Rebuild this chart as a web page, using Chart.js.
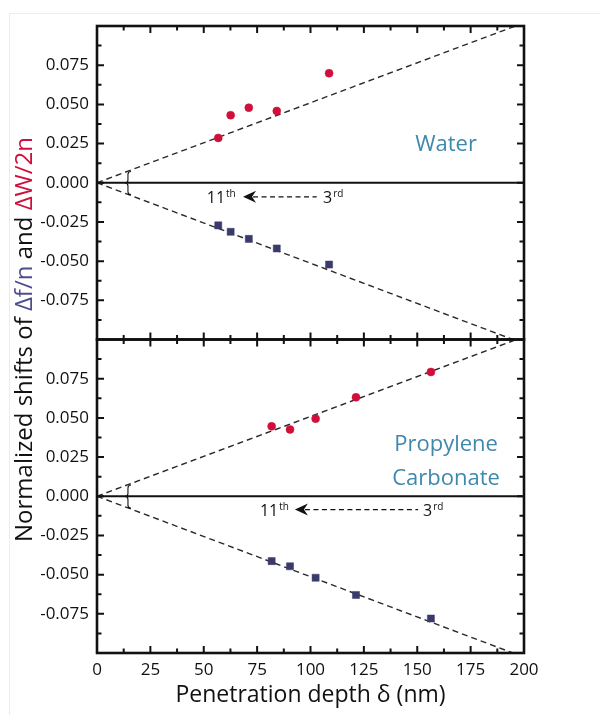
<!DOCTYPE html>
<html>
<head>
<meta charset="utf-8">
<script src="https://cdn.jsdelivr.net/npm/chart.js@4.4.1/dist/chart.umd.min.js"></script>
<style>
  html, body { margin: 0; padding: 0; background: #fff; }
  #wrap { width: 600px; height: 715px; position: relative; }
</style>
</head>
<body>
<div id="wrap"><canvas id="c" width="600" height="715"></canvas></div>
<script>
// ---- data ----
const depthWater = [56.8, 62.6, 71.1, 84.2, 108.7];
const widthWater = [0.0286, 0.0431, 0.0479, 0.0458, 0.0699];
const freqWater  = [-0.0272, -0.0313, -0.0358, -0.0419, -0.0522];

const depthPC = [81.8, 90.4, 102.4, 121.3, 156.4];
const widthPC = [0.0446, 0.0426, 0.0495, 0.0631, 0.0793];
const freqPC  = [-0.0414, -0.0447, -0.0520, -0.0630, -0.0780];

// dashed fit lines through the origin (end points)
const fitWaterWidthX = [0, 196];   const fitWaterWidthY = [0, 0.1];
const fitWaterFreqX  = [0, 194.8]; const fitWaterFreqY  = [0, -0.1];
const fitPCWidthX    = [0, 196.5]; const fitPCWidthY    = [0, 0.1];
const fitPCFreqX     = [0, 194.8]; const fitPCFreqY     = [0, -0.1];

const xTickValues = [0, 25, 50, 75, 100, 125, 150, 175, 200];
const xTickLabels = ['0', '25', '50', '75', '100', '125', '150', '175', '200'];
const yTickValues = [-0.075, -0.05, -0.025, 0, 0.025, 0.05, 0.075];
const yTickLabels = ['-0.075', '-0.050', '-0.025', '0.000', '0.025', '0.050', '0.075'];

const panelLabelTop = ['Water'];
const panelLabelBot = ['Propylene', 'Carbonate'];

const RED = '#d0103a';
const NAVY = '#3b3b6b';
const TXT = '#111';
const LABEL_BLUE = '#3f88ad';
const FONT = "'Open Sans', 'Liberation Sans', sans-serif";

function pts(xs, ys) { return xs.map((x, i) => ({x: x, y: ys[i]})); }

function fitLine(xs, ys, axis) {
  return {
    type: 'line', data: pts(xs, ys), yAxisID: axis,
    borderColor: '#2a2a2a', borderWidth: 1.4, borderDash: [6, 4],
    pointRadius: 0, fill: false, tension: 0, order: 2
  };
}
function markers(xs, ys, axis, color, style, r) {
  return {
    type: 'scatter', data: pts(xs, ys), yAxisID: axis,
    backgroundColor: color, borderColor: color, borderWidth: 0.5,
    pointStyle: style, pointRadius: r, pointHoverRadius: r, order: 1
  };
}

function yScale(weight) {
  return {
    type: 'linear', position: 'left', stack: 'panels', stackWeight: 1, weight: weight,
    min: -0.1, max: 0.1,
    grid: { display: false, drawTicks: false },
    border: { display: false },
    afterBuildTicks: (s) => { s.ticks = yTickValues.map(v => ({value: v})); },
    ticks: {
      padding: 8, color: TXT, font: { family: FONT, size: 17 },
      callback: (v) => { const i = yTickValues.findIndex(t => Math.abs(t - v) < 1e-9); return i >= 0 ? yTickLabels[i] : ''; }
    },
    afterFit: (s) => { s.width = 97; s.paddingTop = 0; s.paddingBottom = 0; }
  };
}

function sup(ctx, x, y, base, s) {
  ctx.font = '16px ' + FONT;
  ctx.textBaseline = 'alphabetic';
  ctx.textAlign = 'left';
  ctx.fillText(base, x, y);
  const w = ctx.measureText(base).width;
  ctx.font = '10px ' + FONT;
  ctx.fillText(s, x + w + 1, y - 6);
}

function arrowNote(ctx, xs, ys, yVal, startX, tipX, tailX, endX) {
  const y = ys.getPixelForValue(yVal);
  const a = xs.getPixelForValue(startX);
  const tip = xs.getPixelForValue(tipX);
  const tail = xs.getPixelForValue(tailX);
  const e = xs.getPixelForValue(endX);
  ctx.fillStyle = TXT; ctx.strokeStyle = TXT;
  sup(ctx, a, y + 6, '11', 'th');
  ctx.save();
  ctx.lineWidth = 1.3; ctx.setLineDash([5, 3.5]);
  ctx.beginPath(); ctx.moveTo(tip + 10, y); ctx.lineTo(tail, y); ctx.stroke();
  ctx.restore();
  ctx.beginPath();
  ctx.moveTo(tip, y);
  ctx.lineTo(tip + 13, y - 6);
  ctx.lineTo(tip + 9, y);
  ctx.lineTo(tip + 13, y + 6);
  ctx.closePath(); ctx.fill();
  sup(ctx, e, y + 6, '3', 'rd');
}

function brace(ctx, xs, ys, xv, y1v, y2v) {
  const x = xs.getPixelForValue(xv);
  const t = ys.getPixelForValue(y1v), b = ys.getPixelForValue(y2v);
  const m = (t + b) / 2;
  ctx.save();
  ctx.strokeStyle = TXT; ctx.lineWidth = 1.1;
  ctx.beginPath();
  ctx.moveTo(x + 3, t);
  ctx.quadraticCurveTo(x, t, x, t + 3);
  ctx.lineTo(x, m - 3);
  ctx.quadraticCurveTo(x, m, x - 3, m);
  ctx.quadraticCurveTo(x, m, x, m + 3);
  ctx.lineTo(x, b - 3);
  ctx.quadraticCurveTo(x, b, x + 3, b);
  ctx.stroke();
  ctx.restore();
}

const decor = {
  id: 'decor',
  beforeDraw(chart) {
    const ctx = chart.ctx;
    ctx.save();
    ctx.strokeStyle = '#ececec'; ctx.lineWidth = 1;
    ctx.strokeRect(9.5, 13.5, 800, 900);
    ctx.restore();
  },
  beforeDatasetsDraw(chart) {
    const ctx = chart.ctx, xs = chart.scales.x;
    ctx.save();
    ctx.strokeStyle = '#111'; ctx.lineWidth = 2;
    ['yTop', 'yBot'].forEach(id => {
      const ys = chart.scales[id];
      const y = ys.getPixelForValue(0);
      ctx.beginPath(); ctx.moveTo(xs.left, y); ctx.lineTo(xs.right, y); ctx.stroke();
    });
    ctx.restore();
  },
  afterDatasetsDraw(chart) {
    const ctx = chart.ctx, xs = chart.scales.x;
    ctx.save();
    ctx.strokeStyle = '#111';
    ['yTop', 'yBot'].forEach(id => {
      const ys = chart.scales[id];
      const top = ys.top, bot = ys.bottom, L = xs.left, R = xs.right;
      ctx.lineWidth = 2;
      for (let k = -7; k <= 7; k++) {
        const v = k * 0.0125;
        const y = ys.getPixelForValue(v);
        const len = (k % 2 === 0) ? 7 : 4.5;
        ctx.beginPath();
        ctx.moveTo(L, y); ctx.lineTo(L + len, y);
        ctx.moveTo(R, y); ctx.lineTo(R - len, y);
        ctx.stroke();
      }
      for (let k = 1; k < 16; k++) {
        const v = k * 12.5;
        const x = xs.getPixelForValue(v);
        const len = (k % 2 === 0) ? 7 : 4.5;
        ctx.beginPath();
        ctx.moveTo(x, top); ctx.lineTo(x, top + len);
        ctx.moveTo(x, bot); ctx.lineTo(x, bot - len);
        ctx.stroke();
      }
      ctx.lineWidth = 2.6;
      ctx.strokeRect(L, top, R - L, bot - top);
    });
    ctx.restore();

    const yt = chart.scales.yTop, yb = chart.scales.yBot;
    ctx.save();
    arrowNote(ctx, xs, yt, -0.009, 51.4, 68.4, 102.9, 105.9);
    arrowNote(ctx, xs, yb, -0.0085, 76.3, 92.7, 150.4, 152.7);
    brace(ctx, xs, yt, 14.5, 0.0072, -0.0076);
    brace(ctx, xs, yb, 14.5, 0.0072, -0.0076);
    ctx.fillStyle = LABEL_BLUE;
    ctx.font = '22px ' + FONT;
    ctx.textAlign = 'center'; ctx.textBaseline = 'middle';
    ctx.fillText(panelLabelTop[0], xs.getPixelForValue(163.5), yt.getPixelForValue(0.024));
    ctx.fillText(panelLabelBot[0], xs.getPixelForValue(163.5), yb.getPixelForValue(0.033));
    ctx.fillText(panelLabelBot[1], xs.getPixelForValue(163.5), yb.getPixelForValue(0.011));
    const parts = [
      ['Normalized shifts of ', TXT],
      ['\u0394f/n', '#4d4d8f'],
      [' and ', TXT],
      ['\u0394W/2n', RED]
    ];
    ctx.font = '24px ' + FONT;
    const total = parts.reduce((s, p) => s + ctx.measureText(p[0]).width, 0);
    const cy = (yt.top + yb.bottom) / 2;
    ctx.translate(25, cy);
    ctx.rotate(-Math.PI / 2);
    ctx.textAlign = 'left'; ctx.textBaseline = 'middle';
    let px = -total / 2;
    parts.forEach(p => {
      ctx.fillStyle = p[1];
      ctx.fillText(p[0], px, 0);
      px += ctx.measureText(p[0]).width;
    });
    ctx.restore();
  }
};

new Chart(document.getElementById('c'), {
  data: {
    datasets: [
      markers(depthWater, widthWater, 'yTop', RED, 'circle', 4),
      markers(depthWater, freqWater, 'yTop', NAVY, 'rect', 5),
      markers(depthPC, widthPC, 'yBot', RED, 'circle', 4),
      markers(depthPC, freqPC, 'yBot', NAVY, 'rect', 5),
      fitLine(fitWaterWidthX, fitWaterWidthY, 'yTop'),
      fitLine(fitWaterFreqX, fitWaterFreqY, 'yTop'),
      fitLine(fitPCWidthX, fitPCWidthY, 'yBot'),
      fitLine(fitPCFreqX, fitPCFreqY, 'yBot')
    ]
  },
  options: {
    responsive: false, animation: false, maintainAspectRatio: false,
    layout: { padding: { top: 26, right: 76, bottom: 0, left: 0 } },
    plugins: { legend: { display: false }, tooltip: { enabled: false } },
    scales: {
      x: {
        type: 'linear', position: 'bottom', min: 0, max: 200,
        grid: { display: false, drawTicks: false },
        border: { display: false },
        afterBuildTicks: (s) => { s.ticks = xTickValues.map(v => ({value: v})); },
        ticks: {
          padding: 7, color: TXT, font: { family: FONT, size: 17 },
          maxRotation: 0,
          callback: (v) => { const i = xTickValues.indexOf(v); return i >= 0 ? xTickLabels[i] : ''; }
        },
        title: {
          display: true, text: 'Penetration depth \u03b4 (nm)', color: TXT,
          font: { family: FONT, size: 23 }, padding: { top: 0, bottom: 6 }
        },
        afterFit: (s) => { s.height = 62; s.paddingLeft = 0; s.paddingRight = 0; }
      },
      yTop: yScale(2),
      yBot: yScale(1)
    }
  },
  plugins: [decor]
});
</script>
</body>
</html>
